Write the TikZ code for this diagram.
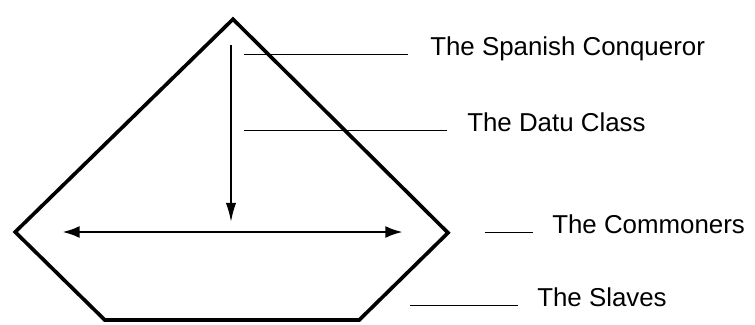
\documentclass[tikz,border=0pt]{standalone}
\usepackage{fontspec}
\setmainfont{Liberation Sans}
\usetikzlibrary{arrows.meta}

\begin{document}
\begin{tikzpicture}[
        every node/.style={font=\fontsize{18.4}{22}\selectfont},
        society/.style={line width=2.6pt, line join=miter},
        pointer/.style={line width=1.3pt, -{Latex[length=4.8mm,width=2.6mm]}},
        spread/.style={line width=2.1pt, {Latex[length=4.4mm,width=3mm]}-{Latex[length=4.4mm,width=3mm]}},
        leader/.style={line width=0.7pt},
        label/.style={anchor=base west, inner sep=0pt}
    ]
    \useasboundingbox (0,0) rectangle (18.875,8.1);

    % =========================
    % the social pyramid
    % =========================
    \coordinate (apex) at (5.825,7.62);
    \coordinate (left) at (0.38,2.3);
    \coordinate (right) at (11.2,2.28);
    \coordinate (botL) at (2.62,0.1);
    \coordinate (botR) at (8.98,0.1);

    \draw[society] (apex) -- (right) -- (botR) -- (botL) -- (left) -- cycle;

    % Arrows inside
    \coordinate (downA) at (5.775,6.975);
    \coordinate (downB) at (5.775,2.55);
    \draw[pointer] (downA) -- (downB);

    \coordinate (wideL) at (1.55,2.3);
    \coordinate (wideR) at (10.075,2.3);
    \draw[spread] (wideL) -- (wideR);

    % =========================
    % labels with leader lines
    % =========================
    \node[label] (spanish) at (10.75,6.72) {The Spanish Conqueror};
    \node[label] (datu) at (11.675,4.82) {The Datu Class};
    \node[label] (commoners) at (13.8,2.27) {The Commoners};
    \node[label] (slaves) at (13.425,0.45) {The Slaves};

    \coordinate (l1) at (6.1,6.75);
    \coordinate (l2) at (6.1,4.85);
    \coordinate (l3) at (12.125,2.3);
    \coordinate (l4) at (10.25,0.475);

    \draw[leader, shorten >=0.55cm] (l1) -- (l1 -| spanish.west);
    \draw[leader, shorten >=0.5cm] (l2) -- (l2 -| datu.west);
    \draw[leader, shorten >=0.48cm] (l3) -- (l3 -| commoners.west);
    \draw[leader, shorten >=0.48cm] (l4) -- (l4 -| slaves.west);

\end{tikzpicture}
\end{document}
